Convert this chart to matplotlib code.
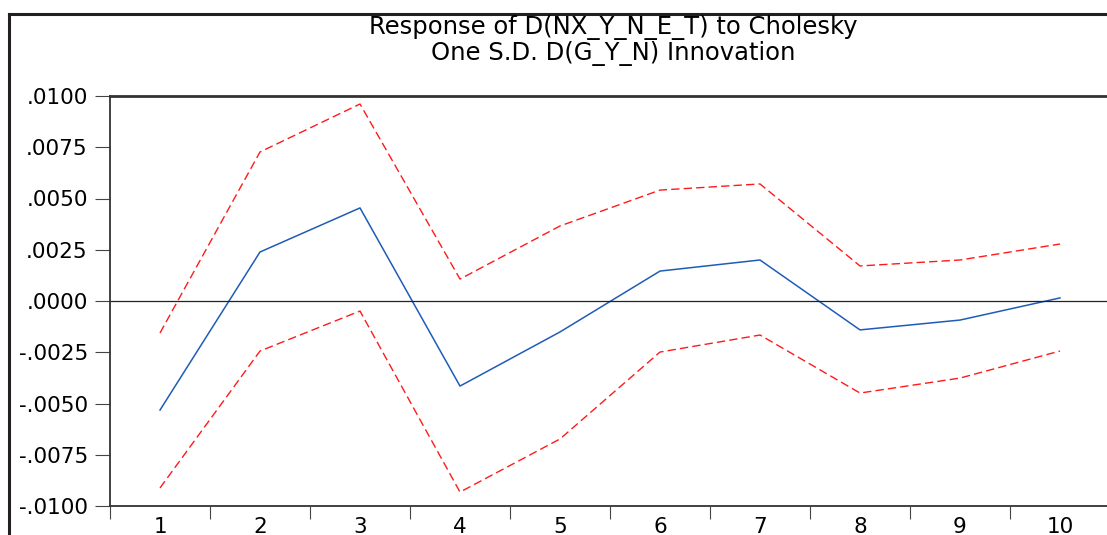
import numpy as np
import matplotlib.pyplot as plt
from matplotlib.lines import Line2D

# impulse response and +/- 2 S.E. bands, periods 1..10
periods = np.arange(1, 11)
response = [-0.00532, 0.00239, 0.00454, -0.00415, -0.00151,
            0.00146, 0.00200, -0.00141, -0.00093, 0.00015]
upper = [-0.00156, 0.00727, 0.00961, 0.00107, 0.00366,
         0.00541, 0.00571, 0.00171, 0.00200, 0.00278]
lower = [-0.00912, -0.00244, -0.00049, -0.00932, -0.00673,
         -0.00249, -0.00166, -0.00449, -0.00376, -0.00244]
yticks = [0.0100, 0.0075, 0.0050, 0.0025, 0.0, -0.0025, -0.0050, -0.0075, -0.0100]

title_lines = ["Response of D(NX_Y_N_E_T) to Cholesky",
               "One S.D. D(G_Y_N) Innovation"]

def fmt(v):
    s = "%.4f" % v
    s = s.replace("0.", ".", 1)
    if s == "-.0000":
        s = ".0000"
    return s

W, H = 1107, 535
fig = plt.figure(figsize=(W / 100, H / 100), dpi=100)
fig.patch.set_facecolor("white")
plt.rcParams["font.family"] = ["DejaVu Sans"]

ax = fig.add_axes([110 / W, 29 / H, 1000 / W, 410 / H])
ax.plot(periods, response, color="#1f5cb8", lw=1.1)
ax.plot(periods, upper, color="#ff1a1a", lw=1.0, ls=(0, (6, 3)))
ax.plot(periods, lower, color="#ff1a1a", lw=1.0, ls=(0, (6, 3)))
ax.axhline(0, color="#222222", lw=0.9)

ax.set_xlim(0.5, 10.5)
ax.set_ylim(-0.0100, 0.0100)

ax.set_xticks(np.arange(0.5, 11, 1))
ax.set_xticklabels([])
ax.set_xticks(periods, minor=True)
ax.set_xticklabels([str(p) for p in periods], minor=True, fontsize=15.5)
ax.tick_params(axis="x", which="major", length=9, width=0.8, color="#444444")
ax.tick_params(axis="x", which="minor", length=0, pad=8)

ax.set_yticks(yticks)
ax.set_yticklabels([fmt(v) for v in yticks], fontsize=15.5)
ax.tick_params(axis="y", length=11, width=0.8, color="#444444", pad=5)

for side in ["left", "bottom", "top"]:
    ax.spines[side].set_color("#333333")
    ax.spines[side].set_linewidth(1.3)
ax.spines["top"].set_linewidth(2.0)
ax.spines["right"].set_visible(False)

# two-line title, one text per line placed on its baseline
for i, line in enumerate(title_lines):
    fig.text(613 / W, 1 - (34 + 26 * i) / H, line, ha="center", va="baseline",
             fontsize=17.5)

# outer frame lines
fig.add_artist(Line2D([8.5 / W, 8.5 / W], [0, 1 - 14 / H], color="#231f20", lw=2.2,
                      transform=fig.transFigure))
fig.add_artist(Line2D([8.5 / W, 1], [1 - 14 / H, 1 - 14 / H], color="#231f20", lw=2.2,
                      transform=fig.transFigure))

fig.savefig("out.png", dpi=100)
